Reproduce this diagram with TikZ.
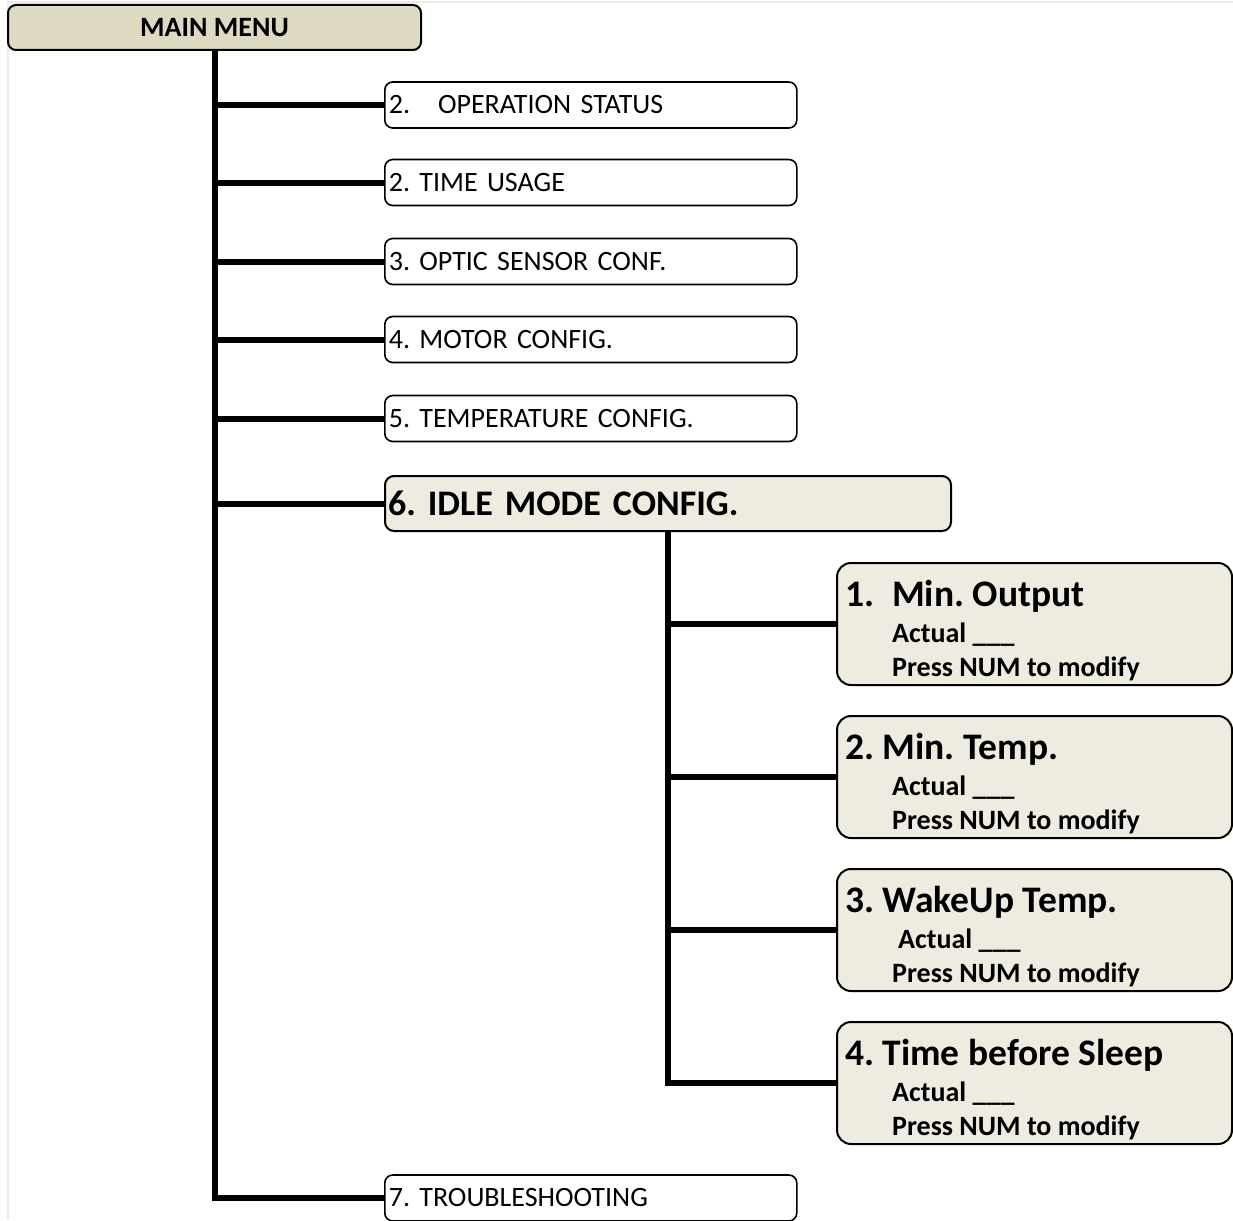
\documentclass[tikz,border=0pt]{standalone}
\usepackage{fontspec}
\setmainfont{Carlito}
\usetikzlibrary{calc}
\definecolor{tandark}{HTML}{DDD9C3}
\definecolor{tanlight}{HTML}{EEECE1}
\definecolor{framecol}{HTML}{EEEAE0}
\frenchspacing
\begin{document}
\begin{tikzpicture}[x=1pt,y=-1pt,
  trunk/.style={line width=6pt, black},
  mainbox/.style={draw=black, line width=2pt, rounded corners=8pt, fill=tandark,
    minimum width=413pt, minimum height=45pt, inner sep=0pt,
    font=\fontsize{28pt}{32pt}\selectfont\bfseries},
  itembox/.style={draw=black, line width=1.6pt, rounded corners=8pt, fill=white,
    anchor=west, minimum height=46pt, text width=404pt, inner xsep=4pt, inner ysep=0pt,
    align=left, font=\fontsize{28pt}{32pt}\selectfont},
  idlebox/.style={draw=black, line width=2pt, rounded corners=9pt, fill=tanlight,
    anchor=west, minimum height=55pt, text width=560pt, inner xsep=3pt, inner ysep=0pt,
    align=left, font=\fontsize{36pt}{40pt}\selectfont\bfseries},
  subbox/.style={draw=black, line width=2pt, rounded corners=14pt, fill=tanlight,
    anchor=west, minimum width=395pt, minimum height=122pt, inner sep=0pt},
  subtitle/.style={anchor=base west, inner sep=0pt,
    font=\fontsize{37.5pt}{42pt}\selectfont\bfseries},
  subline/.style={anchor=base west, inner sep=0pt,
    font=\fontsize{28pt}{32pt}\selectfont\bfseries},
]
\useasboundingbox (0,0) rectangle (1233,1220);

% thin page frame
\draw[framecol, line width=2pt] (7.5,1220) -- (7.5,2.5) -- (1233,2.5);

% main menu and its entries
\node[mainbox] (main) at (214.5,27.5) {MAIN MENU};
\node[itembox] (o1) at (384,105)   {2.\hspace{28pt}OPERATION STATUS};
\node[itembox] (o2) at (384,182.5) {2. TIME USAGE};
\node[itembox] (o3) at (384,261.5) {3. OPTIC SENSOR CONF.};
\node[itembox] (o4) at (384,339.5) {4. MOTOR CONFIG.};
\node[itembox] (o5) at (384,418.5) {5. TEMPERATURE CONFIG.};
\node[idlebox] (idle) at (384,503.5) {6. IDLE MODE CONFIG.};
\node[itembox] (o7) at (384,1198)  {7. TROUBLESHOOTING};

% trunk and branches
\draw[trunk] (main.south) |- (o7.west);
\foreach \n in {o1,o2,o3,o4,o5,idle}
  \draw[trunk] (main.south |- \n.west) -- (\n.west);

% idle mode sub-entries
\node[subbox] (s1) at (836,624) {};
\node[subbox] (s2) at (836,777) {};
\node[subbox] (s3) at (836,930) {};
\node[subbox] (s4) at (836,1083) {};

\begin{scope}
  \clip[rounded corners=14pt] (s1.north west) rectangle (s1.south east);
  \node[subtitle] (s1t) at ($(s1.north west)+(9,44)$) {\makebox[47pt][l]{1.}Min. Output};
  \node[subline] (s1a) at ($(s1.north west)+(56,80)$) {Actual \_\_\_};
  \node[subline] (s1b) at ($(s1.north west)+(56,114)$) {Press NUM to modify};
\end{scope}
\begin{scope}
  \clip[rounded corners=14pt] (s2.north west) rectangle (s2.south east);
  \node[subtitle] (s2t) at ($(s2.north west)+(9,44)$) {2. Min. Temp.};
  \node[subline] (s2a) at ($(s2.north west)+(56,80)$) {Actual \_\_\_};
  \node[subline] (s2b) at ($(s2.north west)+(56,114)$) {Press NUM to modify};
\end{scope}
\begin{scope}
  \clip[rounded corners=14pt] (s3.north west) rectangle (s3.south east);
  \node[subtitle] (s3t) at ($(s3.north west)+(9,44)$) {3. WakeUp Temp.};
  \node[subline] (s3a) at ($(s3.north west)+(62,80)$) {Actual \_\_\_};
  \node[subline] (s3b) at ($(s3.north west)+(56,114)$) {Press NUM to modify};
\end{scope}
\begin{scope}
  \clip[rounded corners=14pt] (s4.north west) rectangle (s4.south east);
  \node[subtitle] (s4t) at ($(s4.north west)+(9,44)$) {4. Time before Sleep};
  \node[subline] (s4a) at ($(s4.north west)+(56,80)$) {Actual \_\_\_};
  \node[subline] (s4b) at ($(s4.north west)+(56,114)$) {Press NUM to modify};
\end{scope}

\draw[trunk] (idle.south) |- (s4.west);
\foreach \n in {s1,s2,s3}
  \draw[trunk] (idle.south |- \n.west) -- (\n.west);
\end{tikzpicture}
\end{document}
